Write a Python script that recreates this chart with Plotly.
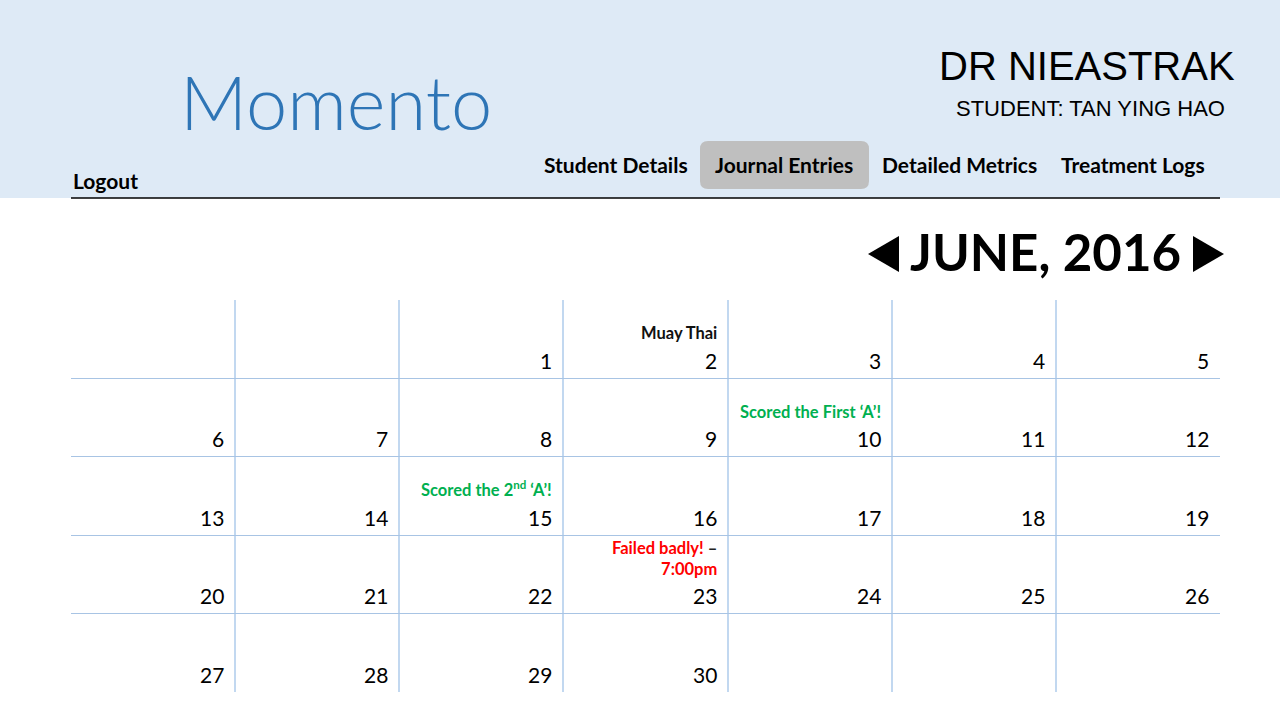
import plotly.graph_objects as go

W, H = 1280, 720

# calendar content (Monday-first weeks of June 2016)
weeks = [
    [None, None, 1, 2, 3, 4, 5],
    [6, 7, 8, 9, 10, 11, 12],
    [13, 14, 15, 16, 17, 18, 19],
    [20, 21, 22, 23, 24, 25, 26],
    [27, 28, 29, 30, None, None, None],
]
event_days = [2, 10, 15, 23]
event_texts = [
    "Muay Thai",
    "Scored the First ‘A’!",
    "Scored the 2<sup>nd</sup> ‘A’!",
    "Failed badly! <span style='color:#222'>–</span><br>7:00pm",
]
event_colors = ["#111111", "#00B050", "#00B050", "#FF0000"]

month_title = "JUNE, 2016"
doctor = "DR NIEASTRAK"
student = "STUDENT: TAN YING HAO"
nav_items = ["Student Details", "Journal Entries", "Detailed Metrics", "Treatment Logs"]

BODY = "Lato, Carlito, 'Open Sans', sans-serif"
NARROW = "'Liberation Sans Narrow', 'Arial Narrow', 'Liberation Sans', sans-serif"


def px(x):
    return x / W


def py(y):
    return 1 - y / H


def rounded_rect(x0, y0, x1, y1, r):
    # path in paper coords from pixel box
    rx, ry = r / W, r / H
    a, b, c, d = px(x0), py(y1), px(x1), py(y0)
    return (f"M{a+rx},{b} L{c-rx},{b} Q{c},{b} {c},{b+ry} L{c},{d-ry} Q{c},{d} {c-rx},{d} "
            f"L{a+rx},{d} Q{a},{d} {a},{d-ry} L{a},{b+ry} Q{a},{b} {a+rx},{b} Z")


fig = go.Figure()
fig.add_trace(go.Scatter(x=[0, 7], y=[0, 5], mode="markers",
                         marker=dict(opacity=0), hoverinfo="skip", showlegend=False))

annotations = []
# day numbers
for r, week in enumerate(weeks):
    for c, day in enumerate(week):
        if day is None:
            continue
        annotations.append(dict(x=c + 1, y=r + 1, xref="x", yref="y", text=str(day),
                                showarrow=False, xanchor="right", yanchor="middle",
                                xshift=-9, yshift=18,
                                font=dict(family=BODY, size=21, color="#000")))

# events above the day numbers
for day, txt, col in zip(event_days, event_texts, event_colors):
    for r, week in enumerate(weeks):
        if day in week:
            c = week.index(day)
            annotations.append(dict(x=c + 1, y=r + 1, xref="x", yref="y", text=txt,
                                    showarrow=False, xanchor="right", yanchor="bottom",
                                    align="right", xshift=-9, yshift=33,
                                    font=dict(family=BODY, size=16.5, color=col, weight="bold")))

# header texts
annotations += [
    dict(x=px(336), y=py(102), xref="paper", yref="paper", text="Momento", showarrow=False,
         xanchor="center", yanchor="middle",
         font=dict(family=BODY, size=74, color="#2E75B6", weight=300)),
    dict(x=px(1237), y=py(66), xref="paper", yref="paper", text=doctor, showarrow=False,
         xanchor="right", yanchor="middle", font=dict(family=NARROW, size=40, color="#000")),
    dict(x=px(1227), y=py(108), xref="paper", yref="paper", text=student, showarrow=False,
         xanchor="right", yanchor="middle", font=dict(family=NARROW, size=22, color="#000")),
    dict(x=px(71), y=py(180), xref="paper", yref="paper", text="Logout", showarrow=False,
         xanchor="left", yanchor="middle",
         font=dict(family=BODY, size=21, color="#000", weight="bold")),
    dict(x=px(1045), y=py(251), xref="paper", yref="paper", text=month_title, showarrow=False,
         xanchor="center", yanchor="middle",
         font=dict(family=BODY, size=51, color="#000", weight="bold")),
]
nav_centers = [616, 784, 959, 1133]
for name, cx in zip(nav_items, nav_centers):
    annotations.append(dict(x=px(cx), y=py(165), xref="paper", yref="paper", text=name,
                            showarrow=False, xanchor="center", yanchor="middle",
                            font=dict(family=BODY, size=21, color="#000", weight="bold")))

shapes = [
    dict(type="rect", xref="paper", yref="paper", x0=0, x1=1, y0=py(198), y1=1,
         fillcolor="#DEEAF6", line=dict(width=0), layer="below"),
    dict(type="path", xref="paper", yref="paper", path=rounded_rect(700, 141, 869, 189, 8),
         fillcolor="#BFBFBF", line=dict(width=0), layer="below"),
    dict(type="line", xref="paper", yref="paper", x0=px(71), x1=px(1220), y0=py(198), y1=py(198),
         line=dict(color="#000", width=1.3)),
    dict(type="path", xref="paper", yref="paper",
         path=f"M{px(868)},{py(254)} L{px(899)},{py(236)} L{px(899)},{py(272)} Z",
         fillcolor="#000", line=dict(width=0)),
    dict(type="path", xref="paper", yref="paper",
         path=f"M{px(1224)},{py(254)} L{px(1193)},{py(236)} L{px(1193)},{py(272)} Z",
         fillcolor="#000", line=dict(width=0)),
]

fig.update_layout(
    width=W, height=H,
    margin=dict(l=0, r=0, t=0, b=0),
    paper_bgcolor="white", plot_bgcolor="white",
    showlegend=False,
    annotations=annotations,
    shapes=shapes,
    xaxis=dict(domain=[px(71), px(1220)], range=[0, 7], tickvals=[1, 2, 3, 4, 5, 6],
               showticklabels=False, showgrid=True, gridcolor="#C2D8F0", gridwidth=2,
               zeroline=False, showline=False, fixedrange=True),
    yaxis=dict(domain=[py(692), py(300)], range=[5, 0], tickvals=[1, 2, 3, 4],
               showticklabels=False, showgrid=True, gridcolor="#A8C4E4", gridwidth=1.2,
               zeroline=False, showline=False, fixedrange=True),
)

# drop the default page margin so the figure sits at the window corner
fig.write_html("out.html", config={"displayModeBar": False},
               post_script="document.body.style.margin='0px';")
